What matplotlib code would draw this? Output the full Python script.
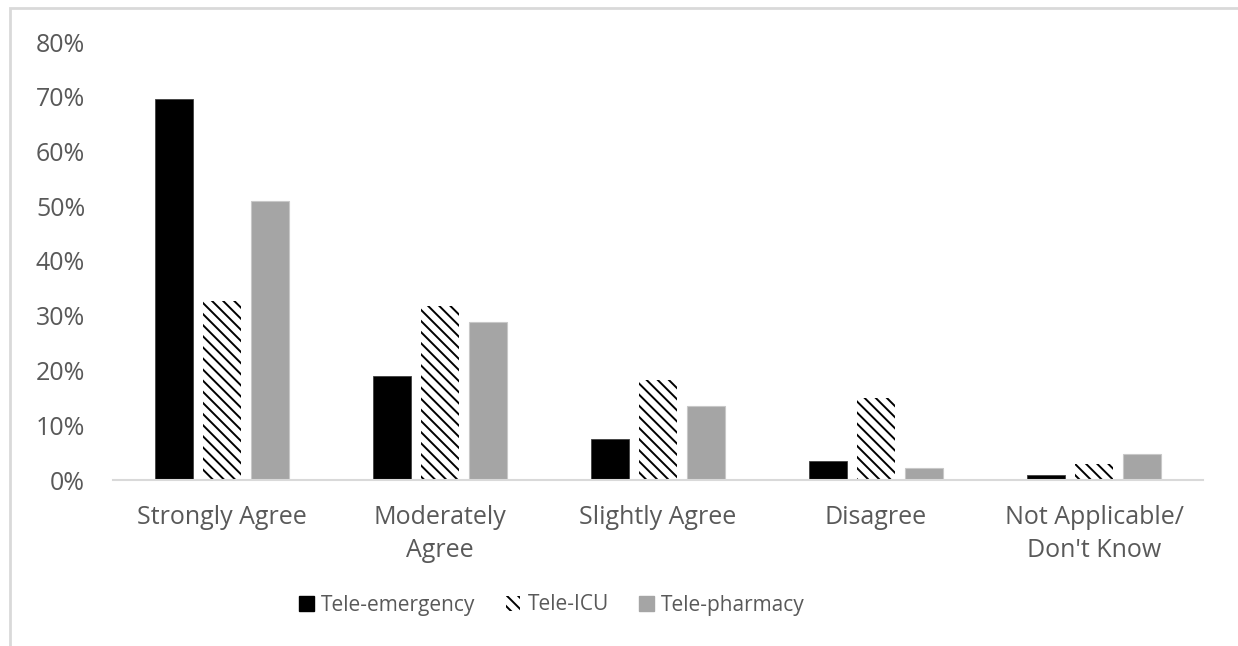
import matplotlib.pyplot as plt
import numpy as np
from matplotlib.patches import Rectangle, Patch
from matplotlib.ticker import PercentFormatter

# --- Data ---
categories = ['Strongly Agree', 'Moderately\nAgree', 'Slightly Agree', 'Disagree',
              'Not Applicable/\nDon\'t Know']
series_names = ['Tele-emergency', 'Tele-ICU', 'Tele-pharmacy']
tele_emergency = [69.5, 19.0, 7.4, 3.5, 0.9]
tele_icu = [32.7, 31.8, 18.3, 14.9, 3.0]
tele_pharmacy = [51.0, 28.9, 13.6, 2.2, 4.7]
y_ticks = [0, 10, 20, 30, 40, 50, 60, 70, 80]

# --- Style ---
plt.rcParams['font.family'] = ['Open Sans', 'DejaVu Sans']
plt.rcParams['hatch.linewidth'] = 1.4
TEXT_COLOR = '#595959'
AXIS_COLOR = '#d9d9d9'


def main():
    W, H = 1238, 646
    fig = plt.figure(figsize=(W / 100, H / 100), dpi=100)

    # chart area border (only top and left visible in the reference)
    fig.patches.append(Rectangle((10 / W, -0.1), 1.2, 1 - 8 / H + 0.1,
                                 transform=fig.transFigure, fill=False,
                                 edgecolor=AXIS_COLOR, linewidth=2))

    ax = fig.add_axes([113 / W, 1 - 480 / H, (1203 - 113) / W, (480 - 42) / H])

    x = np.arange(len(categories))
    width = 0.175
    step = 0.222

    ax.bar(x - step, tele_emergency, width, color='black', edgecolor='#404040',
           linewidth=0.6, label=series_names[0])
    ax.bar(x, tele_icu, width, color='white', edgecolor='black', hatch='\\\\\\',
           linewidth=0, label=series_names[1])
    ax.bar(x + step, tele_pharmacy, width, color='#a5a5a5', edgecolor='#c8c8c8',
           linewidth=0.8, label=series_names[2])

    ax.set_xlim(-0.5, len(categories) - 0.5)
    ax.set_ylim(0, 80)
    ax.set_yticks(y_ticks)
    ax.yaxis.set_major_formatter(PercentFormatter(decimals=0))
    ax.set_xticks(x)
    ax.set_xticklabels(categories, linespacing=1.4)

    for side in ['top', 'right', 'left']:
        ax.spines[side].set_visible(False)
    ax.spines['bottom'].set_color(AXIS_COLOR)
    ax.spines['bottom'].set_linewidth(1.5)
    ax.tick_params(axis='both', length=0, labelsize=18, colors=TEXT_COLOR)
    ax.tick_params(axis='y', pad=20)
    ax.tick_params(axis='x', pad=18)

    handles = [
        Patch(facecolor='black', edgecolor='black'),
        Patch(facecolor='white', edgecolor='black', hatch='\\\\\\', linewidth=0),
        Patch(facecolor='#a5a5a5', edgecolor='#a5a5a5'),
    ]
    fig.legend(handles, series_names, loc='center', ncol=3,
               bbox_to_anchor=(552 / W, 1 - 605 / H), frameon=False,
               fontsize=15, labelcolor=TEXT_COLOR, handlelength=0.7,
               handleheight=0.7, handletextpad=0.35, columnspacing=1.45)

    fig.savefig('out.png', dpi=100)
    plt.close(fig)


if __name__ == '__main__':
    main()
